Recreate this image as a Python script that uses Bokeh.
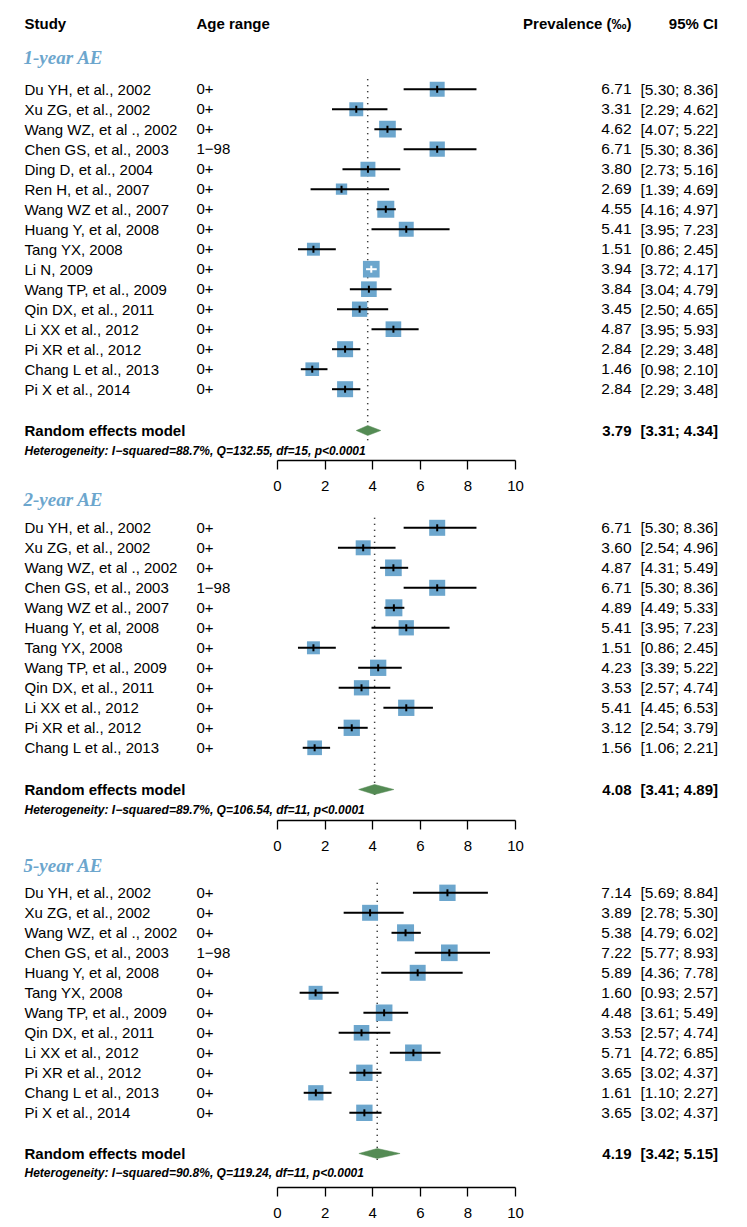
import numpy as np
from bokeh.plotting import figure
from bokeh.models import ColumnDataSource, Range1d, LinearAxis, FixedTicker
from bokeh.embed import file_html
from bokeh.resources import INLINE
from bokeh.core.properties import value

# ---------------- data ----------------
header_study = "Study"
header_age = "Age range"
header_est = "Prevalence (‰)"
header_ci = "95% CI"
axis_ticks = [0, 2, 4, 6, 8, 10]

title1 = "1-year AE"
studies1 = ["Du YH, et al., 2002", "Xu ZG, et al., 2002", "Wang WZ, et al ., 2002",
            "Chen GS, et al., 2003", "Ding D, et al., 2004", "Ren H, et al., 2007",
            "Wang WZ et al., 2007", "Huang Y, et al, 2008", "Tang YX, 2008", "Li N, 2009",
            "Wang TP, et al., 2009", "Qin DX, et al., 2011", "Li XX et al., 2012",
            "Pi XR et al., 2012", "Chang L et al., 2013", "Pi X et al., 2014"]
ages1 = ["0+", "0+", "0+", "1\u221298", "0+", "0+", "0+", "0+", "0+", "0+", "0+", "0+",
         "0+", "0+", "0+", "0+"]
est1 = [6.71, 3.31, 4.62, 6.71, 3.80, 2.69, 4.55, 5.41, 1.51, 3.94, 3.84, 3.45, 4.87, 2.84, 1.46, 2.84]
lo1 = [5.30, 2.29, 4.07, 5.30, 2.73, 1.39, 4.16, 3.95, 0.86, 3.72, 3.04, 2.50, 3.95, 2.29, 0.98, 2.29]
hi1 = [8.36, 4.62, 5.22, 8.36, 5.16, 4.69, 4.97, 7.23, 2.45, 4.17, 4.79, 4.65, 5.93, 3.48, 2.10, 3.48]
weight1 = [6.1, 5.3, 7.6, 6.4, 6.1, 3.5, 7.9, 6.1, 4.6, 7.6, 6.7, 6.4, 6.7, 7.0, 5.1, 7.0]
re1 = [3.79, 3.31, 4.34]
het1 = "Heterogeneity: I\u2212squared=88.7%, Q=132.55, df=15, p<0.0001"

title2 = "2-year AE"
studies2 = ["Du YH, et al., 2002", "Xu ZG, et al., 2002", "Wang WZ, et al ., 2002",
            "Chen GS, et al., 2003", "Wang WZ et al., 2007", "Huang Y, et al, 2008",
            "Tang YX, 2008", "Wang TP, et al., 2009", "Qin DX, et al., 2011",
            "Li XX et al., 2012", "Pi XR et al., 2012", "Chang L et al., 2013"]
ages2 = ["0+", "0+", "0+", "1\u221298", "0+", "0+", "0+", "0+", "0+", "0+", "0+", "0+"]
est2 = [6.71, 3.60, 4.87, 6.71, 4.89, 5.41, 1.51, 4.23, 3.53, 5.41, 3.12, 1.56]
lo2 = [5.30, 2.54, 4.31, 5.30, 4.49, 3.95, 0.86, 3.39, 2.57, 4.45, 2.54, 1.06]
hi2 = [8.36, 4.96, 5.49, 8.36, 5.33, 7.23, 2.45, 5.22, 4.74, 6.53, 3.79, 2.21]
weight2 = [8.7, 7.6, 9.4, 8.7, 9.8, 7.9, 5.7, 9.0, 7.9, 9.0, 9.0, 7.3]
re2 = [4.08, 3.41, 4.89]
het2 = "Heterogeneity: I\u2212squared=89.7%, Q=106.54, df=11, p<0.0001"

title3 = "5-year AE"
studies3 = ["Du YH, et al., 2002", "Xu ZG, et al., 2002", "Wang WZ, et al ., 2002",
            "Chen GS, et al., 2003", "Huang Y, et al, 2008", "Tang YX, 2008",
            "Wang TP, et al., 2009", "Qin DX, et al., 2011", "Li XX et al., 2012",
            "Pi XR et al., 2012", "Chang L et al., 2013", "Pi X et al., 2014"]
ages3 = ["0+", "0+", "0+", "1\u221298", "0+", "0+", "0+", "0+", "0+", "0+", "0+", "0+"]
est3 = [7.14, 3.89, 5.38, 7.22, 5.89, 1.60, 4.48, 3.53, 5.71, 3.65, 1.61, 3.65]
lo3 = [5.69, 2.78, 4.79, 5.77, 4.36, 0.93, 3.61, 2.57, 4.72, 3.02, 1.10, 3.02]
hi3 = [8.84, 5.30, 6.02, 8.93, 7.78, 2.57, 5.49, 4.74, 6.85, 4.37, 2.27, 4.37]
weight3 = [8.6, 8.2, 9.3, 8.9, 8.2, 6.3, 8.9, 7.8, 8.9, 8.6, 7.5, 8.6]
re3 = [4.19, 3.42, 5.15]
het3 = "Heterogeneity: I\u2212squared=90.8%, Q=119.24, df=11, p<0.0001"

re_label = "Random effects model"

# ---------------- layout / style ----------------
W, H = 746, 1226
X0, PXU = 277.0, 23.8          # page px of value 0, px per unit


def vx(px):
    return (px - X0) / PXU


SANS = value("Liberation Sans")
SERIF = value("Liberation Serif")
BOX = "#6CA6CD"
GREEN = "#548B54"
FS = "15px"
FSN = "15.5px"
X_STUDY, X_AGE, X_EST, X_CI = 24, 196, 631, 717.5
MAXBOX = 17.0

sections = [
    dict(title=title1, studies=studies1, ages=ages1, est=est1, lo=lo1, hi=hi1, w=weight1,
         re=re1, het=het1, ty=57, r1=88.7, rey=430, hety=450, axy=460),
    dict(title=title2, studies=studies2, ages=ages2, est=est2, lo=lo2, hi=hi2, w=weight2,
         re=re2, het=het2, ty=499, r1=527.3, rey=789, hety=809, axy=820),
    dict(title=title3, studies=studies3, ages=ages3, est=est3, lo=lo3, hi=hi3, w=weight3,
         re=re3, het=het3, ty=865, r1=892.3, rey=1153, hety=1172, axy=1187),
]

p = figure(width=W, height=H, x_range=Range1d(vx(0), vx(W)),
           y_range=Range1d(H, 0), x_axis_type=None, y_axis_type=None,
           toolbar_location=None, output_backend="svg", min_border=0,
           outline_line_color=None)

# headers
p.text(x=[vx(X_STUDY), vx(X_AGE)], y=[22.7, 22.7], text=[header_study, header_age],
       text_font=SANS, text_font_style="bold", text_font_size=FS,
       text_baseline="middle", text_align="left", text_color="black")
p.text(x=[vx(X_EST), vx(X_CI)], y=[22.7, 22.7], text=[header_est, header_ci],
       text_font=SANS, text_font_style="bold", text_font_size=FS,
       text_baseline="middle", text_align="right", text_color="black")

for s in sections:
    n = len(s["studies"])
    ys = [s["r1"] + 20 * i for i in range(n)]
    est = np.array(s["est"])
    lo = np.array(s["lo"])
    hi = np.array(s["hi"])
    w = np.array(s["w"])
    size = MAXBOX * np.sqrt(w / w.max())
    inside = (hi - lo) * PXU < size
    col = ["white" if b else "black" for b in inside]
    src = ColumnDataSource(dict(
        y=ys, est=est, lo=lo, hi=hi, size=size, col=col,
        y0=[y - 3.5 for y in ys], y1=[y + 3.5 for y in ys],
        name=s["studies"], age=s["ages"],
        est_t=["%.2f" % v for v in est],
        ci_t=["[%.2f; %.2f]" % (a, b) for a, b in zip(lo, hi)],
        xs=[vx(X_STUDY)] * n, xa=[vx(X_AGE)] * n, xe=[vx(X_EST)] * n, xc=[vx(X_CI)] * n))

    # title
    p.text(x=[vx(23)], y=[s["ty"]], text=[s["title"]], text_font=SERIF,
           text_font_style="bold italic", text_font_size="19px", text_color=BOX,
           text_baseline="middle")

    # reference dotted line
    re_est, re_lo, re_hi = s["re"]
    p.segment(x0=[re_est], x1=[re_est], y0=[s["r1"] - 10], y1=[s["rey"] + 10],
              line_color="black", line_width=1.5, line_dash="1 5")

    # boxes, CIs, estimate ticks
    p.scatter(x="est", y="y", size="size", marker="square", source=src,
              fill_color=BOX, line_color=None)
    p.segment(x0="lo", x1="hi", y0="y", y1="y", line_color="col", line_width=2, source=src)
    p.segment(x0="est", x1="est", y0="y0", y1="y1", line_color="col", line_width=2, source=src)

    # texts
    p.text(x="xs", y="y", text="name", source=src, text_font=SANS, text_font_size=FS,
           text_baseline="middle", text_color="black")
    p.text(x="xa", y="y", text="age", source=src, text_font=SANS, text_font_size=FS,
           text_baseline="middle", text_color="black")
    p.text(x="xe", y="y", text="est_t", source=src, text_font=SANS, text_font_size=FSN,
           text_baseline="middle", text_align="right", text_color="black")
    p.text(x="xc", y="y", text="ci_t", source=src, text_font=SANS, text_font_size=FSN,
           text_baseline="middle", text_align="right", text_color="black")

    # summary diamond
    ry = s["rey"]
    p.patch(x=[re_lo, re_est, re_hi, re_est], y=[ry, ry - 5, ry, ry + 5],
            fill_color=GREEN, line_color=GREEN, line_width=0.5)
    p.text(x=[vx(X_STUDY)], y=[ry], text=[re_label], text_font=SANS, text_font_style="bold",
           text_font_size=FS, text_baseline="middle", text_color="black")
    p.text(x=[vx(X_EST), vx(X_CI)], y=[ry, ry],
           text=["%.2f" % re_est, "[%.2f; %.2f]" % (re_lo, re_hi)],
           text_font=SANS, text_font_style="bold", text_font_size=FS,
           text_baseline="middle", text_align="right", text_color="black")
    p.text(x=[vx(X_STUDY)], y=[s["hety"]], text=[s["het"]], text_font=SANS,
           text_font_style="bold italic", text_font_size="12px",
           text_baseline="middle", text_color="black")

    # x axis for the section
    ax = LinearAxis(fixed_location=s["axy"], bounds=(0, 10),
                    ticker=FixedTicker(ticks=axis_ticks))
    ax.axis_line_color = "black"
    ax.axis_line_width = 1.3
    ax.major_tick_line_color = "black"
    ax.major_tick_line_width = 1.3
    ax.major_tick_out = 9
    ax.major_tick_in = 0
    ax.minor_tick_line_color = None
    ax.major_label_text_font = "Liberation Sans"
    ax.major_label_text_font_size = "15px"
    ax.major_label_text_color = "black"
    ax.major_label_standoff = 11
    p.add_layout(ax, "below")

open("out.html", "w").write(file_html(p, INLINE))
